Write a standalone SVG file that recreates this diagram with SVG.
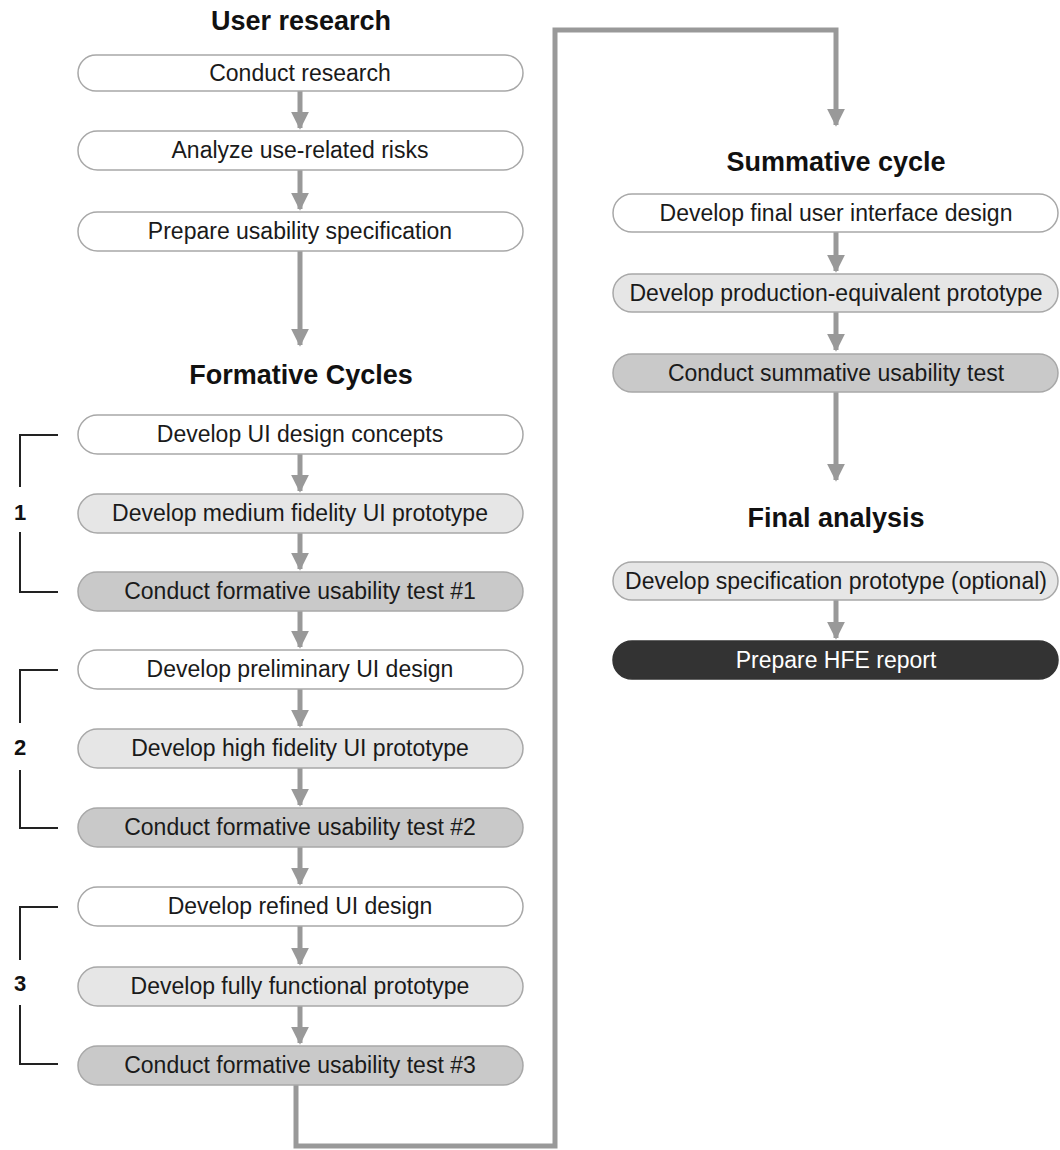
<svg xmlns="http://www.w3.org/2000/svg" width="1060" height="1150" viewBox="0 0 1060 1150">
<style>
.box{stroke:#a8a8a8;stroke-width:1.5}
.w{fill:#ffffff}
.l{fill:#e6e6e6}
.m{fill:#c9c9c9}
.d{fill:#333333;stroke:#333333}
.t{font-family:"Liberation Sans",Arial,sans-serif;font-size:23px;fill:#1a1a1a;text-anchor:middle;dominant-baseline:central}
.tw{fill:#ffffff}
.h{font-family:"Liberation Sans",Arial,sans-serif;font-size:27px;font-weight:bold;fill:#111;text-anchor:middle;dominant-baseline:central}
.n{font-family:"Liberation Sans",Arial,sans-serif;font-size:22px;font-weight:bold;fill:#111;text-anchor:middle;dominant-baseline:central}
.c{stroke:#999999;stroke-width:5;fill:none}
.br{stroke:#222;stroke-width:2;fill:none}
</style>
<defs>
<marker id="ah" viewBox="0 0 10 10" refX="9" refY="5" markerWidth="3.6" markerHeight="3.8" markerUnits="strokeWidth" orient="auto">
<path d="M0,0 L10,5 L0,10 z" fill="#999999"/>
</marker>
</defs>
<rect width="1060" height="1150" fill="#ffffff"/>

<g id="titles">
<text class="h" x="301" y="21">User research</text>
<text class="h" x="301" y="375">Formative Cycles</text>
<text class="h" x="836" y="162">Summative cycle</text>
<text class="h" x="836" y="518">Final analysis</text>
</g>

<g id="brackets">
<path class="br" d="M58,435 H20 V487 M20,532 V592 H58"/>
<text class="n" x="20" y="512">1</text>
<path class="br" d="M58,670 H20 V723 M20,770 V828 H58"/>
<text class="n" x="20" y="747">2</text>
<path class="br" d="M58,907 H20 V960 M20,1005 V1064 H58"/>
<text class="n" x="20" y="983">3</text>
</g>

<g id="connectors">
<line class="c" x1="300" y1="91" x2="300" y2="128" marker-end="url(#ah)"/>
<line class="c" x1="300" y1="170" x2="300" y2="209" marker-end="url(#ah)"/>
<line class="c" x1="300" y1="251" x2="300" y2="345" marker-end="url(#ah)"/>
<line class="c" x1="300" y1="454" x2="300" y2="491" marker-end="url(#ah)"/>
<line class="c" x1="300" y1="533" x2="300" y2="569" marker-end="url(#ah)"/>
<line class="c" x1="300" y1="611" x2="300" y2="647" marker-end="url(#ah)"/>
<line class="c" x1="300" y1="689" x2="300" y2="726" marker-end="url(#ah)"/>
<line class="c" x1="300" y1="768" x2="300" y2="805" marker-end="url(#ah)"/>
<line class="c" x1="300" y1="847" x2="300" y2="884" marker-end="url(#ah)"/>
<line class="c" x1="300" y1="926" x2="300" y2="964" marker-end="url(#ah)"/>
<line class="c" x1="300" y1="1006" x2="300" y2="1043" marker-end="url(#ah)"/>
<path class="c" d="M296,1085 V1146 H555 V30 H836 V125" marker-end="url(#ah)"/>
<line class="c" x1="836" y1="232" x2="836" y2="271" marker-end="url(#ah)"/>
<line class="c" x1="836" y1="312" x2="836" y2="350" marker-end="url(#ah)"/>
<line class="c" x1="836" y1="392" x2="836" y2="480" marker-end="url(#ah)"/>
<line class="c" x1="836" y1="600" x2="836" y2="638" marker-end="url(#ah)"/>
</g>

<g id="n1"><rect class="box w" x="78" y="55" width="445" height="36" rx="18"/><text class="t" x="300" y="73">Conduct research</text></g>
<g id="n2"><rect class="box w" x="78" y="131" width="445" height="39" rx="19.5"/><text class="t" x="300" y="150">Analyze use-related risks</text></g>
<g id="n3"><rect class="box w" x="78" y="212" width="445" height="39" rx="19.5"/><text class="t" x="300" y="231">Prepare usability specification</text></g>

<g id="n4"><rect class="box w" x="78" y="415" width="445" height="39" rx="19.5"/><text class="t" x="300" y="434">Develop UI design concepts</text></g>
<g id="n5"><rect class="box l" x="78" y="494" width="445" height="39" rx="19.5"/><text class="t" x="300" y="513">Develop medium fidelity UI prototype</text></g>
<g id="n6"><rect class="box m" x="78" y="572" width="445" height="39" rx="19.5"/><text class="t" x="300" y="591">Conduct formative usability test #1</text></g>

<g id="n7"><rect class="box w" x="78" y="650" width="445" height="39" rx="19.5"/><text class="t" x="300" y="669">Develop preliminary UI design</text></g>
<g id="n8"><rect class="box l" x="78" y="729" width="445" height="39" rx="19.5"/><text class="t" x="300" y="748">Develop high fidelity UI prototype</text></g>
<g id="n9"><rect class="box m" x="78" y="808" width="445" height="39" rx="19.5"/><text class="t" x="300" y="827">Conduct formative usability test #2</text></g>

<g id="n10"><rect class="box w" x="78" y="887" width="445" height="39" rx="19.5"/><text class="t" x="300" y="906">Develop refined UI design</text></g>
<g id="n11"><rect class="box l" x="78" y="967" width="445" height="39" rx="19.5"/><text class="t" x="300" y="986">Develop fully functional prototype</text></g>
<g id="n12"><rect class="box m" x="78" y="1046" width="445" height="39" rx="19.5"/><text class="t" x="300" y="1065">Conduct formative usability test #3</text></g>

<g id="r1"><rect class="box w" x="613" y="194" width="445" height="38" rx="19"/><text class="t" x="836" y="213">Develop final user interface design</text></g>
<g id="r2"><rect class="box l" x="613" y="274" width="445" height="38" rx="19"/><text class="t" x="836" y="293">Develop production-equivalent prototype</text></g>
<g id="r3"><rect class="box m" x="613" y="354" width="445" height="38" rx="19"/><text class="t" x="836" y="373">Conduct summative usability test</text></g>

<g id="r4"><rect class="box l" x="613" y="562" width="445" height="38" rx="19"/><text class="t" x="836" y="581">Develop specification prototype (optional)</text></g>
<g id="r5"><rect class="box d" x="613" y="641" width="445" height="38" rx="19"/><text class="t tw" x="836" y="660">Prepare HFE report</text></g>
</svg>
